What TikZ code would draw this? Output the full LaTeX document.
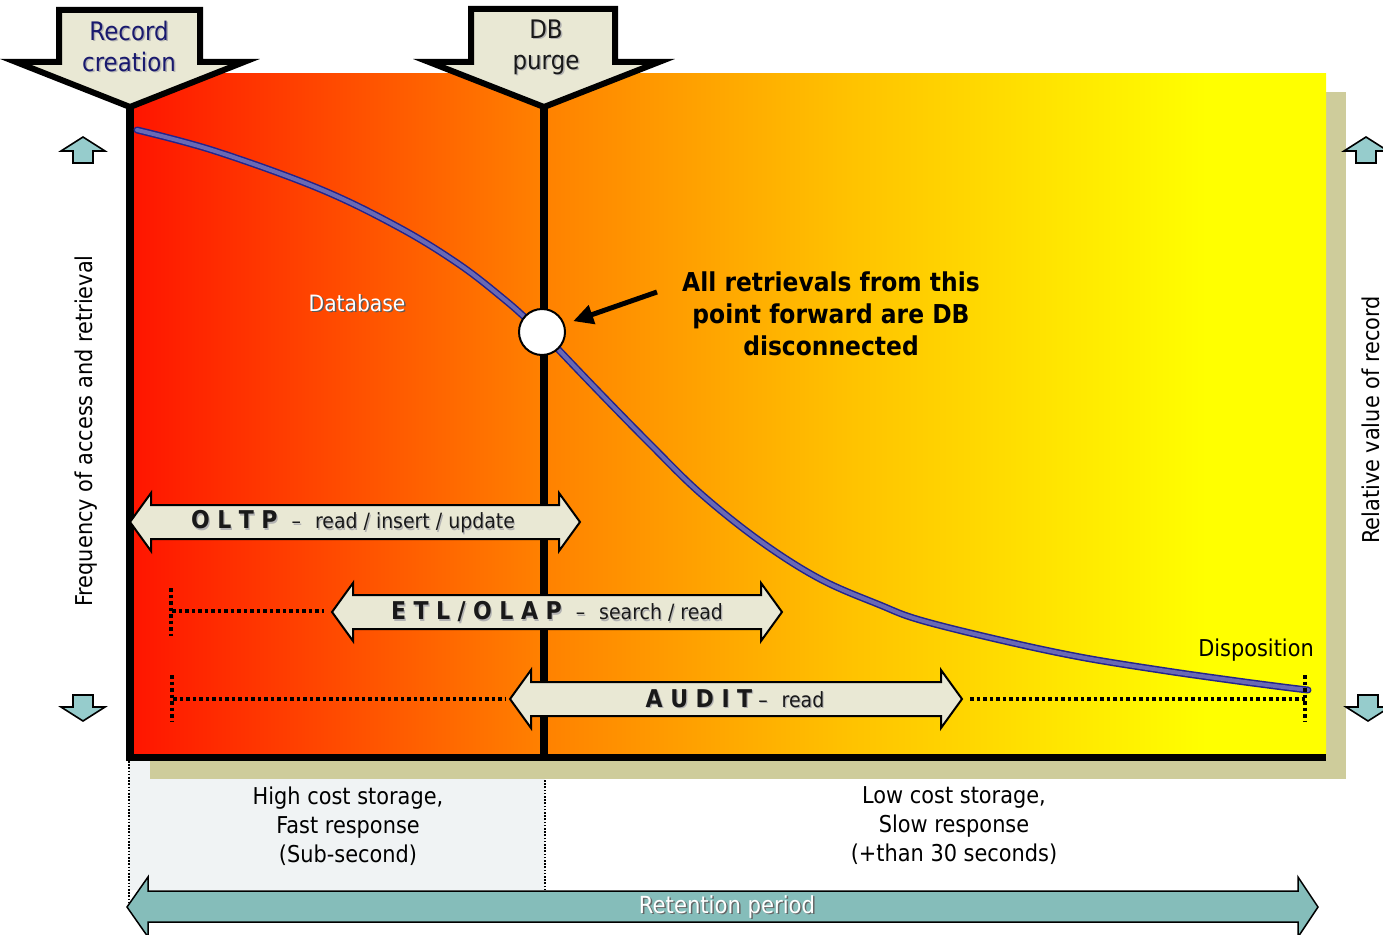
\documentclass[tikz,border=0pt]{standalone}
\usepackage{fontspec}
\setmainfont{DejaVu Sans}[FakeStretch=0.9]
\usetikzlibrary{arrows.meta}

\definecolor{blockfill}{RGB}{233,232,212}
\definecolor{shadowtan}{RGB}{206,204,155}
\definecolor{smallarrow}{RGB}{150,204,204}
\definecolor{retention}{RGB}{133,189,186}
\definecolor{panelgray}{RGB}{240,243,244}
\definecolor{curveedge}{RGB}{35,35,140}
\definecolor{curvefill}{RGB}{105,105,180}
\definecolor{navytext}{RGB}{25,25,110}
\definecolor{darktext}{RGB}{25,25,25}

% red -> orange -> yellow across the storage timeline
\pgfdeclarehorizontalshading{lifecycle}{100bp}{rgb(0bp)=(1,0.08,0); rgb(25bp)=(1,0.08,0); rgb(42bp)=(1,0.5,0); rgb(55bp)=(1,0.76,0); rgb(70bp)=(1,1,0); rgb(100bp)=(1,1,0)}

% horizontal two-headed block arrow: style, left tip x, right tip x, centre y
\newcommand\biarrow[4]{%
  \draw[#1] (#2,#4) -- (#2+21,#4-29) -- (#2+21,#4-17) -- (#3-21,#4-17) -- (#3-21,#4-29)
    -- (#3,#4) -- (#3-21,#4+29) -- (#3-21,#4+17) -- (#2+21,#4+17) -- (#2+21,#4+29) -- cycle;}
% small up / down arrows: style, centre x, tip y
\newcommand\uparr[3]{%
  \draw[#1] (#2,#3) -- (#2+22,#3+14) -- (#2+10,#3+14) -- (#2+10,#3+26) -- (#2-10,#3+26)
    -- (#2-10,#3+14) -- (#2-22,#3+14) -- cycle;}
\newcommand\downarr[3]{%
  \draw[#1] (#2,#3) -- (#2+22,#3-14) -- (#2+10,#3-14) -- (#2+10,#3-26) -- (#2-10,#3-26)
    -- (#2-10,#3-14) -- (#2-22,#3-14) -- cycle;}
% text with a drop shadow: name, position, style, text, shadow colour, offset
\newcommand\shadowed[6]{%
  \node[#3, text=#5] (#1s) at ([shift={(#6,#6)}]#2) {#4};
  \node[#3] (#1) at (#2) {#4};}
\newcommand\gap{\hspace{7.5pt}}
\newcommand\bandname{\bfseries\fontsize{24.5}{25}\selectfont}

\tikzset{
  label/.style={inner sep=0pt, align=center},
  blockarrow/.style={fill=blockfill, draw=black, line width=2, line join=miter},
  bigdown/.style={fill=blockfill, draw=black, line width=6, line join=miter},
  smallarr/.style={fill=smallarrow, draw=black, line width=1.6, line join=miter},
  dotline/.style={line width=3.5, dash pattern=on 3.5pt off 3pt},
  thindot/.style={line width=1.6, dash pattern=on 1.6pt off 1.6pt},
  barline/.style={line width=8},
}

\begin{document}
\begin{tikzpicture}[x=1pt, y=-1pt]
\useasboundingbox (0,0) rectangle (1383,934);
\fill[white] (0,0) rectangle (1383,934);

% fast-storage panel under the chart
\fill[panelgray] (129,757) rectangle (545,890);
% chart shadow and body
\fill[shadowtan] (150,92) rectangle (1346,779);
\shade[shading=lifecycle] (130,73) rectangle (1326,757);

% axes and purge line
\draw[barline] (130,107) -- (130,761);
\draw[line width=7] (126,757) -- (1326,757);
\draw[barline] (544,107) -- (544,757);

% period separators below the chart
\coordinate (sepL1) at (129,761);
\coordinate (sepL2) at (129,905);
\coordinate (sepM1) at (545,780);
\coordinate (sepM2) at (545,890);
\draw[thindot] (sepL1) -- (sepL2);
\draw[thindot] (sepM1) -- (sepM2);

% value curve
\draw[curveedge, line width=7, line cap=round, line join=round]
  plot[smooth, tension=0.6] coordinates {(137,130) (215,151) (320,189) (400,228) (460,265) (505,300) (530,322) (542,332) (556,347) (600,393) (650,444) (700,493) (760,541) (820,579) (880,605) (920,620) (1000,640) (1080,657) (1160,670) (1230,680) (1283,687) (1308,690)};
\draw[curvefill, line width=4, line cap=round, line join=round]
  plot[smooth, tension=0.6] coordinates {(137,130) (215,151) (320,189) (400,228) (460,265) (505,300) (530,322) (542,332) (556,347) (600,393) (650,444) (700,493) (760,541) (820,579) (880,605) (920,620) (1000,640) (1080,657) (1160,670) (1230,680) (1283,687) (1308,690)};

% disconnection point
\node[circle, draw=black, line width=2, fill=white, minimum size=46, inner sep=0] (disc) at (542,332) {};
\coordinate (ptrstart) at (657,292);
\draw[line width=5, -{Triangle[length=20pt, width=19pt]}, shorten >=9pt] (ptrstart) -- (disc);

\node[label, font=\bfseries\fontsize{26}{32}\selectfont] (note) at (831,314)
  {All retrievals from this\\point forward are DB\\disconnected};

\shadowed{db}{357,303}{label, font=\fontsize{22.5}{26}\selectfont, text=white}{Database}{black!65}{1.5}

% access bands
\biarrow{blockarrow}{130}{580}{522}
\shadowed{oltp}{353,522}{label, font=\fontsize{21}{25}\selectfont, text=darktext}
  {{\bandname O\gap L\gap T\gap P}\hspace{14pt}–\hspace{14pt}read / insert / update}{black!30}{1.2}

\coordinate (etlA) at (171,588);
\coordinate (etlB) at (171,636);
\coordinate (etlC) at (172,611);
\coordinate (etlD) at (324,611);
\draw[dotline] (etlA) -- (etlB);
\draw[dotline] (etlC) -- (etlD);
\biarrow{blockarrow}{332}{782}{612}
\shadowed{etl}{557,612}{label, font=\fontsize{21}{25}\selectfont, text=darktext}
  {{\bandname E\gap T\gap L\gap /\gap O\gap L\gap A\gap P}\hspace{14pt}–\hspace{14pt}search / read}{black!30}{1.2}

\coordinate (audA) at (172,675);
\coordinate (audB) at (172,722);
\coordinate (audC) at (173,699);
\coordinate (audD) at (506,699);
\coordinate (audE) at (970,699);
\coordinate (audF) at (1305,699);
\coordinate (dispA) at (1305,675);
\coordinate (dispB) at (1305,722);
\draw[dotline] (audA) -- (audB);
\draw[dotline] (audC) -- (audD);
\draw[dotline] (audE) -- (audF);
\draw[dotline] (dispA) -- (dispB);
\biarrow{blockarrow}{510}{962}{699}
\shadowed{audit}{735,699}{label, font=\fontsize{21}{25}\selectfont, text=darktext}
  {{\bandname A\gap U\gap D\gap I\gap T}\hspace{6pt}–\hspace{14pt}read}{black!30}{1.2}

\node[label, font=\fontsize{23.2}{27}\selectfont] (disp) at (1256,650) {Disposition};

% axis titles
\node[label, rotate=90, font=\fontsize{23.2}{27}\selectfont] (freq) at (86,431) {Frequency of access and retrieval};
\node[label, rotate=90, font=\fontsize{23.2}{27}\selectfont] (relv) at (1371,420) {Relative value of record};

% storage descriptions
\node[label, font=\fontsize{23.2}{29}\selectfont] (high) at (348,826) {High cost storage,\\Fast response\\(Sub-second)};
\node[label, font=\fontsize{23.2}{29}\selectfont] (low) at (954,826) {Low cost storage,\\Slow response\\(+than 30 seconds)};

% retention period
\draw[fill=retention, draw=black, line width=1.5, line join=miter]
  (127,907) -- (148,877) -- (148,891) -- (1298,891) -- (1298,877) -- (1318,907)
  -- (1298,937) -- (1298,922) -- (148,922) -- (148,937) -- cycle;
\shadowed{ret}{727,907}{label, font=\fontsize{23.5}{27}\selectfont, text=white}{Retention period}{black!60}{1.5}

% event markers
\draw[bigdown] (59,10) -- (200,10) -- (200,62) -- (244,62) -- (130,107) -- (16,62) -- (59,62) -- cycle;
\shadowed{rec}{129,46}{label, font=\fontsize{25.5}{31}\selectfont, text=navytext}{Record\\creation}{black!30}{1.5}
\draw[bigdown] (471,9) -- (615,9) -- (615,62) -- (659,62) -- (544,107) -- (429,62) -- (471,62) -- cycle;
\shadowed{purge}{546,47}{label, font=\fontsize{25.5}{31}\selectfont, text=darktext}{DB\\purge}{black!30}{1.5}

% scale direction arrows
\uparr{smallarr}{83}{137}
\downarr{smallarr}{83}{721}
\uparr{smallarr}{1366}{137}
\downarr{smallarr}{1368}{721}
\end{tikzpicture}
\end{document}
